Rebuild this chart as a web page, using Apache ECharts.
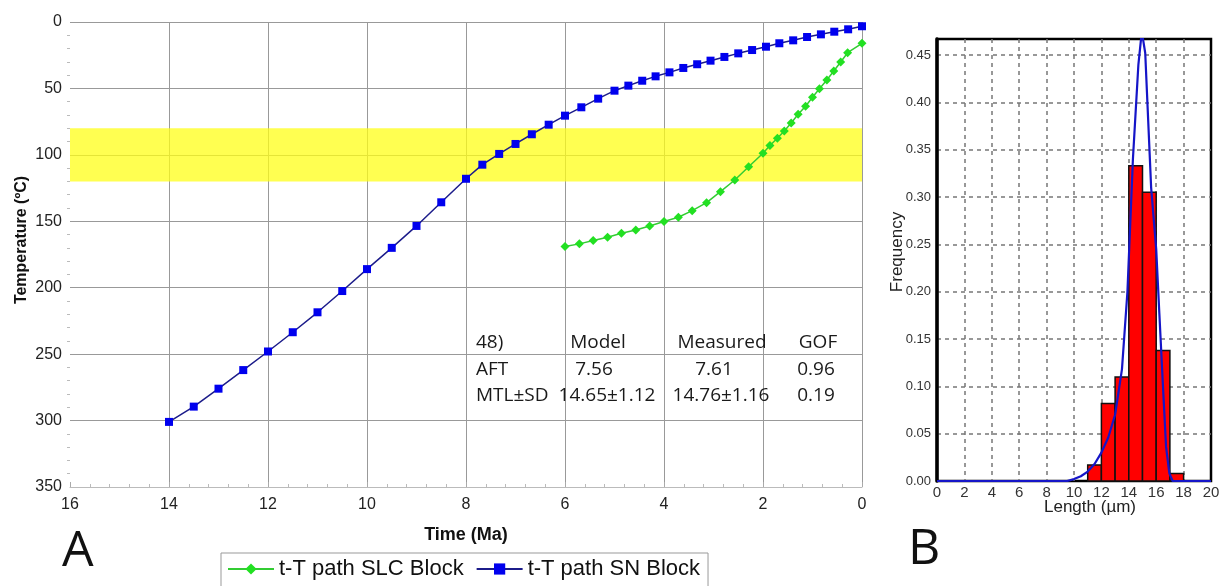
<!DOCTYPE html>
<html>
<head>
<meta charset="utf-8">
<script src="https://cdn.jsdelivr.net/npm/echarts@6/dist/echarts.min.js"></script>
<style>
html,body{margin:0;padding:0;background:#fff;}
#c{width:1223px;height:586px;}
</style>
</head>
<body>
<div id="c"></div>
<script>
// ---- Panel A: t-T paths ----
const snTime = [14,13.5,13,12.5,12,11.5,11,10.5,10,9.5,9,8.5,8,7.67,7.33,7,6.67,6.33,6,5.67,5.33,5,4.72,4.44,4.17,3.89,3.61,3.33,3.06,2.78,2.5,2.22,1.94,1.67,1.39,1.11,0.83,0.56,0.28,0];
const snTemp = [301,289.5,276,262,248,233.5,218.5,202.5,186,170,153.5,135.7,118,107.4,99.3,91.8,84.5,77.3,70.5,64.2,57.7,51.7,47.9,44.2,40.9,37.9,34.6,31.8,29.1,26.3,23.6,21.1,18.6,16,13.8,11.3,9.3,7.3,5.5,3.2];
const slcTime = [6,5.71,5.43,5.14,4.86,4.57,4.29,4,3.71,3.43,3.14,2.86,2.57,2.29,2,1.86,1.71,1.57,1.43,1.29,1.14,1,0.86,0.71,0.57,0.43,0.29,0];
const slcTemp = [169,167,164.5,162,159,156.5,153.5,150.2,147,142,136,127.7,118.9,108.9,98.8,93,87.5,82,76,69.5,63.4,56.7,50.2,43.6,36.9,30.1,23.1,16];
const bandTemp = [80,120];
const seriesNames = ['t-T path SLC Block','t-T path SN Block'];
// table text
const tableHeader = ['48)','Model','Measured','GOF'];
const tableRowAFT = ['AFT','7.56','7.61','0.96'];
const tableRowMTL = ['MTL±SD','14.65±1.12','14.76±1.16','0.19'];

// ---- Panel B: track length histogram ----
const binStart = [11,12,13,14,15,16,17];
const binFreq = [0.017,0.082,0.110,0.333,0.305,0.138,0.008];
const curveX = [0,9.5,10,10.5,11,11.5,12,12.5,13,13.5,13.9,14.3,14.7,14.95,15.2,15.63,16.0,16.23,16.47,16.72,16.96,17.2,20];
const curveY = [0,0,0.002,0.005,0.01,0.018,0.03,0.046,0.07,0.118,0.2,0.34,0.44,0.475,0.452,0.31,0.245,0.177,0.107,0.036,0.008,0,0];

const chart = echarts.init(document.getElementById('c'));
const fontA = 'Liberation Sans, Arial, sans-serif';
const fontT = 'Open Sans, Noto Sans, sans-serif';

const gA = {left:70, top:22, width:792, height:465};
const gB = {left:937, top:39, width:274, height:442};

const colX = [476, 598, 722, 818];
const rowY = [343, 370, 396];
const tableGraphics = [];
[tableHeader, tableRowAFT, tableRowMTL].forEach((row, ri) => {
  row.forEach((txt, ci) => {
    let x = colX[ci], align = 'center';
    if (ci === 0) { align = 'left'; }
    if (ri === 2 && ci === 1) x = 607;
    if (ri === 2 && ci === 2) x = 721;
    if (ri === 1 && ci === 1) x = 594;
    if (ri === 1 && ci === 2) x = 714;
    if (ci === 3 && ri > 0) x = 816;
    tableGraphics.push({type:'text', x:x, y:rowY[ri], style:{text:txt, font:'19px ' + fontT, fill:'#1a1a1a', textAlign:align, textVerticalAlign:'middle'}, z:50});
  });
});

chart.setOption({
  animation:false,
  backgroundColor:'#fff',
  grid:[
    Object.assign({containLabel:false}, gA),
    Object.assign({containLabel:false, show:true, borderColor:'#000', borderWidth:2.5, backgroundColor:'transparent'}, gB)
  ],
  legend:{
    left:221, top:553,
    data:seriesNames,
    orient:'horizontal',
    itemWidth:46, itemHeight:14, itemGap:12,
    borderColor:'#999', borderWidth:1,
    padding:[5,8,14,6],
    textStyle:{fontFamily:fontA, fontSize:22, color:'#111'}
  },
  xAxis:[
    {gridIndex:0, type:'value', inverse:true, min:0, max:16, interval:2,
      axisLine:{show:true, onZero:false, lineStyle:{color:'#bbb', width:1}},
      axisTick:{show:true, inside:true, length:5, lineStyle:{color:'#aaa'}},
      minorTick:{show:true, splitNumber:5, length:3, lineStyle:{color:'#bbb'}},
      axisLabel:{fontFamily:fontA, fontSize:16, color:'#222', margin:10},
      splitLine:{show:true, showMaxLine:false, lineStyle:{color:'#999', width:1}}
    },
    {gridIndex:1, type:'value', min:0, max:20, interval:2,
      axisLine:{show:false, onZero:false},
      axisTick:{show:false},
      axisLabel:{fontFamily:fontA, fontSize:15, color:'#333', margin:4},
      splitLine:{show:true, showMinLine:false, showMaxLine:false, lineStyle:{color:'#777', width:1.5, type:[4,4]}}
    }
  ],
  yAxis:[
    {gridIndex:0, type:'value', inverse:true, min:0, max:350, interval:50,
      axisLine:{show:false, onZero:false},
      axisTick:{show:false},
      minorTick:{show:true, splitNumber:5, length:3, lineStyle:{color:'#bbb'}},
      axisLabel:{fontFamily:fontA, fontSize:16, color:'#222', margin:8},
      splitLine:{show:true, lineStyle:{color:'#999', width:1}}
    },
    {gridIndex:1, type:'value', min:0, max:0.467, interval:0.05,
      axisLine:{show:true, onZero:false, lineStyle:{color:'#000', width:3.5}},
      axisTick:{show:false},
      axisLabel:{fontFamily:fontA, fontSize:13, color:'#333', margin:6,
        formatter:v => (Math.abs(v/0.05 - Math.round(v/0.05)) < 1e-6 ? v.toFixed(2) : '')},
      splitLine:{show:true, showMinLine:false, showMaxLine:false, lineStyle:{color:'#777', width:1.5, type:[4,4]}}
    }
  ],
  graphic:[
    {type:'text', x:22, y:240, rotation:Math.PI/2, style:{text:'Temperature (ºC)', font:'bold 16px ' + fontA, fill:'#111', textAlign:'center', textVerticalAlign:'middle'}},
    {type:'text', x:466, y:535, style:{text:'Time (Ma)', font:'bold 18px ' + fontA, fill:'#111', textAlign:'center', textVerticalAlign:'middle'}},
    {type:'text', x:897, y:252, rotation:Math.PI/2, style:{text:'Frequency', font:'17px ' + fontA, fill:'#222', textAlign:'center', textVerticalAlign:'middle'}},
    {type:'text', x:1090, y:507, style:{text:'Length (µm)', font:'17px ' + fontA, fill:'#222', textAlign:'center', textVerticalAlign:'middle'}},
    {type:'text', x:62, y:552, style:{text:'A', font:'50px ' + fontT, fill:'#111', textAlign:'left', textVerticalAlign:'middle'}},
    {type:'text', x:908, y:550, style:{text:'B', font:'50px ' + fontT, fill:'#111', textAlign:'left', textVerticalAlign:'middle'}}
  ].concat(tableGraphics),
  series:[
    {
      type:'line', name:'band', xAxisIndex:0, yAxisIndex:0, data:[], z:1, silent:true,
      markArea:{silent:true, itemStyle:{color:'rgba(255,255,20,0.74)'},
        data:[[{xAxis:16, yAxis:bandTemp[0]},{xAxis:0, yAxis:bandTemp[1]}]]}
    },
    {
      type:'line', name:seriesNames[0], xAxisIndex:0, yAxisIndex:0,
      data:slcTime.map((t,i)=>[t, slcTemp[i]]),
      symbol:'diamond', symbolSize:9,
      lineStyle:{color:'#33cc33', width:1.5},
      itemStyle:{color:'#22e022'}, z:3
    },
    {
      type:'line', name:seriesNames[1], xAxisIndex:0, yAxisIndex:0,
      data:snTime.map((t,i)=>[t, snTemp[i]]),
      symbol:'rect', symbolSize:8,
      lineStyle:{color:'#1c1c8a', width:1.5},
      itemStyle:{color:'#0000ee'}, z:4
    },
    {
      type:'custom', name:'hist', xAxisIndex:1, yAxisIndex:1,
      data:binStart.map((b,i)=>[b, b+1, binFreq[i]]),
      renderItem:(params, api) => {
        const p0 = api.coord([api.value(0), api.value(2)]);
        const p1 = api.coord([api.value(1), 0]);
        return {type:'rect', shape:{x:p0[0], y:p0[1], width:p1[0]-p0[0], height:p1[1]-p0[1]},
          style:{fill:'#ff0000', stroke:'#111', lineWidth:1.5}};
      }, z:3
    },
    {
      type:'line', name:'fit', xAxisIndex:1, yAxisIndex:1,
      data:curveX.map((x,i)=>[x, curveY[i]]),
      symbol:'none', clip:true,
      lineStyle:{color:'#1515c8', width:2.2}, z:5
    }
  ]
});
</script>
</body>
</html>
